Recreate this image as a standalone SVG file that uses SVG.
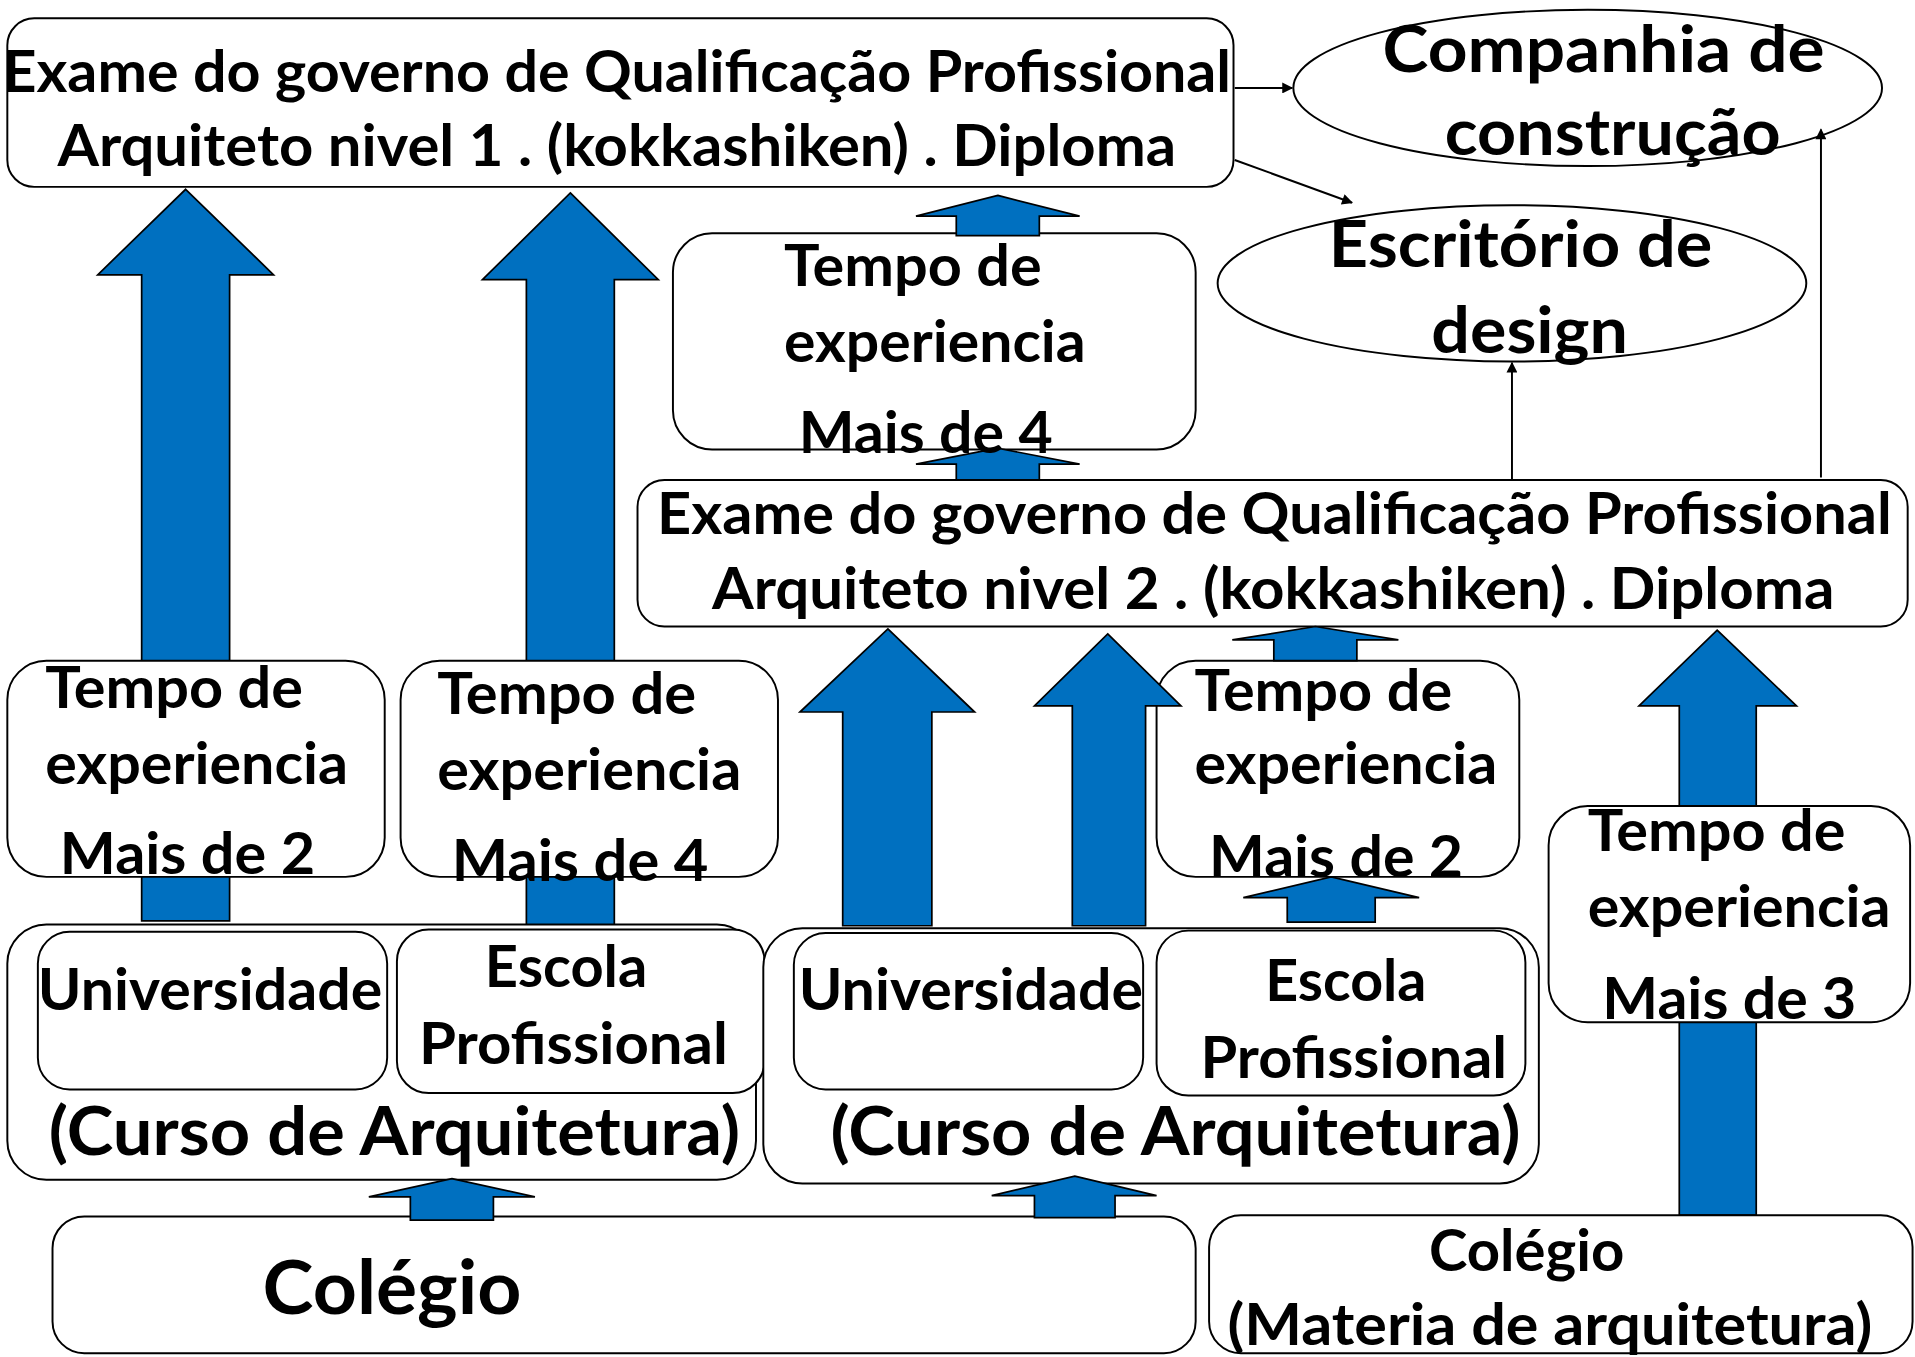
<svg xmlns="http://www.w3.org/2000/svg" width="1915" height="1357" viewBox="0 0 1915 1357">
<defs>
<style>
.box{fill:#fff;stroke:#000;stroke-width:1.6}
.blk{fill:#0070C0;stroke:#000;stroke-width:1.4}
.ln{fill:none;stroke:#000;stroke-width:1.6}
text{font-family:Lato,"Open Sans","Liberation Sans",sans-serif;font-weight:bold;fill:#000;font-size:47px}
.lg{font-size:54px}
.cu{font-size:55px}
.xl{font-size:61px}
</style>
<marker id="ah" viewBox="0 0 10 10" refX="9" refY="5" markerWidth="10" markerHeight="9" orient="auto-start-reverse" markerUnits="userSpaceOnUse">
<path d="M0,0 L10,5 L0,10 Z" fill="#000"/>
</marker>
</defs>
<rect width="1915" height="1357" fill="#fff"/>
<g transform="scale(1.2213)">
<g id="connectors-back">
<path class="blk" d="M152,155 L224,225 L188,225 L188,754 L116,754 L116,225 L80,225 Z"/>
<path class="blk" d="M467,158 L539,229 L503,229 L503,758 L431,758 L431,229 L395,229 Z"/>
<path class="blk" d="M1406,516 L1471,578 L1438,578 L1438,995 L1375,995 L1375,578 L1342,578 Z"/>
<path class="blk" d="M727,515 L798,583 L763,583 L763,758 L690,758 L690,583 L655,583 Z"/>
</g>
<g id="exame1">
<rect class="box" x="6" y="15" width="1004" height="138" rx="22"/>
<text x="2" y="75" textLength="1006" lengthAdjust="spacingAndGlyphs">Exame do governo de Qualificação Profissional</text>
<text x="47" y="136" textLength="916" lengthAdjust="spacingAndGlyphs">Arquiteto nivel 1 . (kokkashiken) . Diploma</text>
</g>
<g id="companhia">
<ellipse class="box" cx="1300" cy="72" rx="241" ry="64"/>
<text class="lg" x="1132" y="59" textLength="362" lengthAdjust="spacingAndGlyphs">Companhia de</text>
<text class="lg" x="1183" y="127" textLength="275" lengthAdjust="spacingAndGlyphs">construção</text>
</g>
<g id="escritorio">
<ellipse class="box" cx="1238" cy="232" rx="241" ry="64"/>
<text class="lg" x="1088" y="219" textLength="314" lengthAdjust="spacingAndGlyphs">Escritório de</text>
<text class="lg" x="1172" y="289" textLength="161" lengthAdjust="spacingAndGlyphs">design</text>
</g>
<g id="tempo-top">
<rect class="box" x="551" y="191" width="428" height="177" rx="32"/>
<text x="642" y="234" textLength="211" lengthAdjust="spacingAndGlyphs">Tempo de</text>
<text x="642" y="296" textLength="247" lengthAdjust="spacingAndGlyphs">experiencia</text>
</g>
<g id="exame2">
<rect class="box" x="522" y="393" width="1040" height="120" rx="22"/>
<text x="538" y="437" textLength="1011" lengthAdjust="spacingAndGlyphs">Exame do governo de Qualificação Profissional</text>
<text x="583" y="499" textLength="919" lengthAdjust="spacingAndGlyphs">Arquiteto nivel 2 . (kokkashiken) . Diploma</text>
</g>
<g id="tempo1">
<rect class="box" x="6" y="541" width="309" height="177" rx="32"/>
<text x="37" y="580" textLength="211" lengthAdjust="spacingAndGlyphs">Tempo de</text>
<text x="37" y="642" textLength="248" lengthAdjust="spacingAndGlyphs">experiencia</text>
<text x="49" y="716" textLength="209" lengthAdjust="spacingAndGlyphs">Mais de 2</text>
</g>
<g id="tempo2">
<rect class="box" x="328" y="541" width="309" height="177" rx="32"/>
<text x="358" y="585" textLength="212" lengthAdjust="spacingAndGlyphs">Tempo de</text>
<text x="358" y="647" textLength="249" lengthAdjust="spacingAndGlyphs">experiencia</text>
<text x="370" y="721" textLength="210" lengthAdjust="spacingAndGlyphs">Mais de 4</text>
</g>
<g id="tempo3">
<rect class="box" x="947" y="541" width="297" height="177" rx="32"/>
<text x="978" y="582" textLength="211" lengthAdjust="spacingAndGlyphs">Tempo de</text>
<text x="978" y="642" textLength="248" lengthAdjust="spacingAndGlyphs">experiencia</text>
</g>
<g id="tempo4">
<rect class="box" x="1268" y="660" width="296" height="177" rx="32"/>
<text x="1300" y="697" textLength="211" lengthAdjust="spacingAndGlyphs">Tempo de</text>
<text x="1300" y="759" textLength="248" lengthAdjust="spacingAndGlyphs">experiencia</text>
<text x="1312" y="834" textLength="208" lengthAdjust="spacingAndGlyphs">Mais de 3</text>
</g>
<g id="curso1">
<rect class="box" x="6" y="757" width="613" height="209" rx="32"/>
<rect class="box" x="31" y="763" width="286" height="129" rx="26"/>
<rect class="box" x="325" y="761" width="301" height="134" rx="26"/>
<text x="31" y="827" textLength="282" lengthAdjust="spacingAndGlyphs">Universidade</text>
<text x="397" y="808" textLength="133" lengthAdjust="spacingAndGlyphs">Escola</text>
<text x="343" y="871" textLength="253" lengthAdjust="spacingAndGlyphs">Profissional</text>
<text class="cu" x="40" y="946" textLength="566" lengthAdjust="spacingAndGlyphs">(Curso de Arquitetura)</text>
</g>
<g id="curso2">
<rect class="box" x="625" y="760" width="635" height="209" rx="32"/>
<rect class="box" x="650" y="764" width="286" height="128" rx="26"/>
<rect class="box" x="947" y="762" width="302" height="135" rx="26"/>
<text x="654" y="827" textLength="282" lengthAdjust="spacingAndGlyphs">Universidade</text>
<text x="1036" y="820" textLength="132" lengthAdjust="spacingAndGlyphs">Escola</text>
<text x="983" y="883" textLength="251" lengthAdjust="spacingAndGlyphs">Profissional</text>
<text class="cu" x="680" y="946" textLength="565" lengthAdjust="spacingAndGlyphs">(Curso de Arquitetura)</text>
</g>
<g id="colegio1">
<rect class="box" x="43" y="996" width="936" height="112" rx="26"/>
<text class="xl" x="215" y="1076" textLength="212" lengthAdjust="spacingAndGlyphs">Colégio</text>
</g>
<g id="colegio2">
<rect class="box" x="990" y="995" width="576" height="113" rx="26"/>
<text x="1170" y="1041" textLength="160" lengthAdjust="spacingAndGlyphs">Colégio</text>
<text x="1005" y="1101" textLength="528" lengthAdjust="spacingAndGlyphs">(Materia de arquitetura)</text>
</g>
<g id="connectors">
<path class="blk" d="M907,519 L967,578 L938,578 L938,758 L878,758 L878,578 L847,578 Z"/>
<path class="blk" d="M817,160 L884,177 L851,177 L851,193 L783,193 L783,177 L750,177 Z"/>
<path class="blk" d="M817,367 L884,380 L851,380 L851,393 L783,393 L783,380 L750,380 Z"/>
<path class="blk" d="M1077,513 L1145,524 L1111,524 L1111,541 L1043,541 L1043,524 L1009,524 Z"/>
<path class="blk" d="M1090,718 L1162,735 L1126,735 L1126,755 L1054,755 L1054,735 L1018,735 Z"/>
<path class="blk" d="M370,965 L438,980 L404,980 L404,999 L336,999 L336,980 L302,980 Z"/>
<path class="blk" d="M880,963 L947,979 L913,979 L913,997 L847,997 L847,979 L812,979 Z"/>
<line class="ln" x1="1011" y1="72" x2="1058" y2="72" marker-end="url(#ah)"/>
<line class="ln" x1="1011" y1="131" x2="1107" y2="166" marker-end="url(#ah)"/>
<line class="ln" x1="1238" y1="393" x2="1238" y2="297" marker-end="url(#ah)"/>
<line class="ln" x1="1491" y1="391" x2="1491" y2="106" marker-end="url(#ah)"/>
</g>
<g id="labels-top">
<text x="654" y="371" textLength="208" lengthAdjust="spacingAndGlyphs">Mais de 4</text>
<text x="990" y="718" textLength="208" lengthAdjust="spacingAndGlyphs">Mais de 2</text>
</g>
</g>
</svg>
